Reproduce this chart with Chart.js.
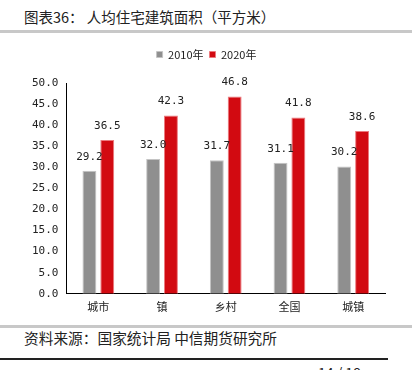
<!DOCTYPE html>
<html>
<head>
<meta charset="utf-8">
<script src="https://cdn.jsdelivr.net/npm/chart.js@4"></script>
<style>
  body { margin: 0; background: #fff; width: 414px; height: 370px; overflow: hidden; position: relative;
         font-family: "Noto Sans CJK SC", sans-serif; }
  .title { position: absolute; left: 24px; top: 6px; font-size: 14.5px; color: #222; }
  .bar1 { position: absolute; left: 0; top: 30px; width: 412px; height: 3px; background: #c8c8c8; }
  .bar2 { position: absolute; left: 0; top: 325px; width: 412px; height: 3px; background: #c8c8c8; }
  .src { position: absolute; left: 24px; top: 327px; font-size: 14.7px; color: #222; }
  .line3 { position: absolute; left: 0; top: 358px; width: 388px; height: 2px; background: #222; }
  .pg { position: absolute; left: 318px; top: 362px; font-size: 14px; color: #222; }
  #wrap { position: absolute; left: 0; top: 40px; width: 400px; height: 280px; }
</style>
</head>
<body>
<div class="title">图表36： 人均住宅建筑面积（平方米）</div>
<div class="bar1"></div>
<div id="wrap"><canvas id="c"></canvas></div>
<div class="bar2"></div>
<div class="src">资料来源：国家统计局 中信期货研究所</div>
<div class="line3"></div>
<div class="pg">14 / 18</div>
<script>
  // values
  const categories = ['城市', '镇', '乡村', '全国', '城镇'];
  const series2010 = [29.2, 32.0, 31.7, 31.1, 30.2];
  const series2020 = [36.5, 42.3, 46.8, 41.8, 38.6];
  const seriesNames = ['2010年', '2020年'];

  const numFont = { family: '"DejaVu Sans Mono", monospace', size: 11 };

  // simple value labels above each bar
  const barLabels = {
    id: 'barLabels',
    afterDatasetsDraw(chart) {
      const ctx = chart.ctx;
      ctx.save();
      ctx.font = '11px "DejaVu Sans Mono", monospace';
      ctx.fillStyle = '#222';
      ctx.textAlign = 'center';
      ctx.textBaseline = 'middle';
      chart.data.datasets.forEach((ds, i) => {
        chart.getDatasetMeta(i).data.forEach((bar, j) => {
          ctx.fillText(ds.data[j].toFixed(1), bar.x, bar.y - 14);
        });
      });
      ctx.restore();
    }
  };

  // push the plot down below the legend
  const legendGap = {
    id: 'legendGap',
    beforeInit(chart) {
      const fit = chart.legend.fit;
      chart.legend.fit = function () {
        fit.bind(chart.legend)();
        this.height += 13;
      };
    }
  };

  const ctx = document.getElementById('c').getContext('2d');
  new Chart(ctx, {
    type: 'bar',
    data: {
      labels: categories,
      datasets: [
        {
          label: seriesNames[0],
          data: series2010,
          backgroundColor: '#8f8f8f',
          borderColor: '#c4c4c4',
          borderWidth: 1,
          categoryPercentage: 0.56,
          barPercentage: 0.78
        },
        {
          label: seriesNames[1],
          data: series2020,
          backgroundColor: '#d20a11',
          borderColor: '#ec7a7e',
          borderWidth: 1,
          categoryPercentage: 0.56,
          barPercentage: 0.78
        }
      ]
    },
    options: {
      responsive: true,
      maintainAspectRatio: false,
      animation: false,
      layout: { padding: { left: 28, right: 15, top: 3, bottom: 1 } },
      plugins: {
        legend: {
          position: 'top',
          labels: {
            boxWidth: 6, boxHeight: 6, padding: 6, color: '#222',
            font: { family: '"Noto Sans CJK SC", sans-serif', size: 11 }
          }
        },
        tooltip: { enabled: false }
      },
      scales: {
        x: {
          grid: { display: false, drawTicks: false },
          border: { color: '#000', width: 1 },
          ticks: { color: '#222', padding: 6, font: { family: '"Noto Sans CJK SC", sans-serif', size: 11 } }
        },
        y: {
          min: 0, max: 50,
          grid: { display: false, drawTicks: true, tickLength: 4, tickColor: '#000' },
          border: { color: '#000', width: 1 },
          ticks: {
            stepSize: 5, color: '#222', padding: 4, font: numFont,
            callback: v => v.toFixed(1)
          }
        }
      }
    },
    plugins: [barLabels, legendGap]
  });
</script>
</body>
</html>
